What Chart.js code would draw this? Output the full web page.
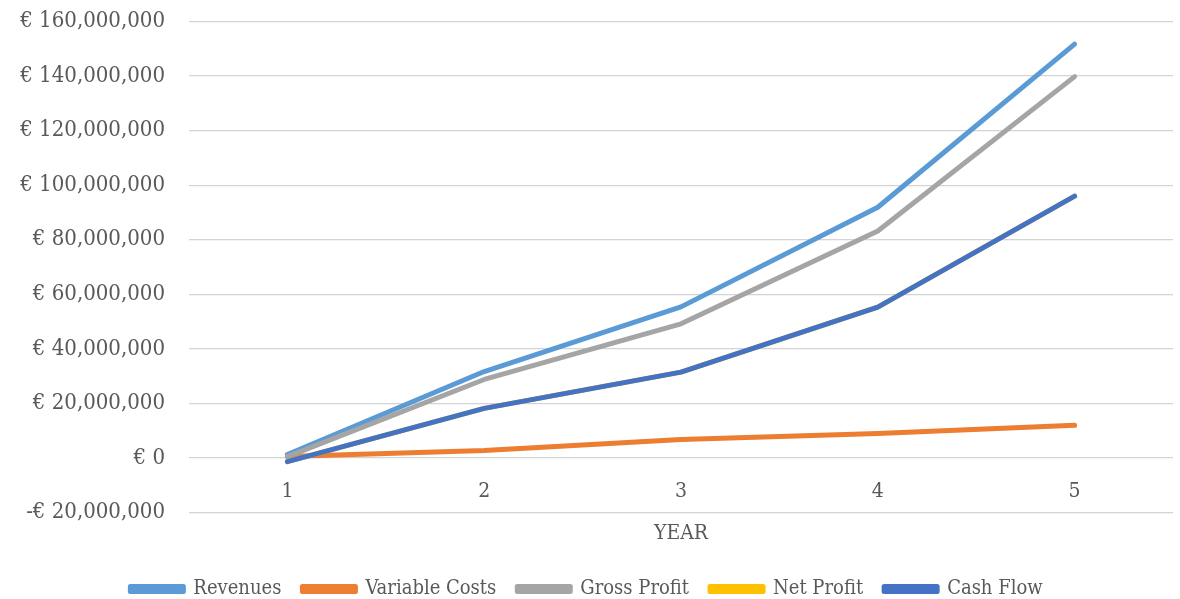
<!DOCTYPE html>
<html>
<head>
<meta charset="utf-8">
<script src="https://cdn.jsdelivr.net/npm/chart.js@4"></script>
<style>
  html, body { margin: 0; padding: 0; background: #ffffff; }
  #wrap { width: 1180px; height: 599px; }
</style>
</head>
<body>
<div id="wrap"><canvas id="chart" width="1180" height="599"></canvas></div>
<script>
// Five-year projection (EUR)
const years = ['1', '2', '3', '4', '5'];
const revenues      = [1300000, 31700000, 55400000, 91900000, 151700000];
const variableCosts = [600000, 2800000, 6800000, 9000000, 12000000];
const grossProfit   = [500000, 28800000, 49200000, 83200000, 139800000];
const netProfit     = [-1300000, 18200000, 31500000, 55300000, 96000000];
const cashFlow      = [-1300000, 18200000, 31500000, 55300000, 96000000];

const yMin = -20000000;
const yMax = 160000000;
const yStep = 20000000;

const FONT = '"DejaVu Serif Condensed", "DejaVu Serif", serif';
const TEXT = '#595959';

function euro(v) {
  if (v === 0) return '€ 0';
  const s = Math.abs(v).toLocaleString('en-US');
  return (v < 0 ? '-€ ' : '€ ') + s;
}

// later series are painted over earlier ones
function series(label, data, color, order) {
  return {
    label, data, order,
    borderColor: color,
    backgroundColor: color,
    borderWidth: 5,
    pointRadius: 0,
    pointHoverRadius: 0,
    tension: 0,
    borderCapStyle: 'round',
    borderJoinStyle: 'round'
  };
}

new Chart(document.getElementById('chart'), {
  type: 'line',
  data: {
    labels: years,
    datasets: [
      series('Revenues', revenues, '#5B9BD5', 5),
      series('Variable Costs', variableCosts, '#ED7D31', 4),
      series('Gross Profit', grossProfit, '#A5A5A5', 3),
      series('Net Profit', netProfit, '#FFC000', 2),
      series('Cash Flow', cashFlow, '#4472C4', 1)
    ]
  },
  options: {
    responsive: false,
    animation: false,
    layout: { padding: { top: 21.5, right: 7, left: 0, bottom: -10 } },
    scales: {
      x: {
        position: { y: 0 },
        offset: true,
        grid: { display: false },
        border: { display: false },
        ticks: { color: TEXT, font: { family: FONT, size: 21 }, padding: 13, maxRotation: 0 },
        title: { display: true, text: 'YEAR', color: TEXT, font: { family: FONT, size: 21 }, padding: { top: 4 } }
      },
      y: {
        min: yMin, max: yMax,
        afterFit(scale) { scale.width = 189; },
        grid: { color: '#D4D4D4', lineWidth: 1.3, drawTicks: true, tickLength: 24, tickColor: 'rgba(0,0,0,0)' },
        border: { display: false },
        ticks: {
          stepSize: yStep,
          color: TEXT,
          padding: 0,
          font: { family: FONT, size: 22 },
          callback: (v) => euro(v)
        }
      }
    },
    plugins: {
      tooltip: { enabled: false },
      legend: {
        position: 'bottom',
        title: { display: true, text: '', padding: { top: 31, bottom: 0 } },
        labels: {
          color: TEXT,
          font: { family: FONT, size: 20 },
          boxWidth: 53,
          boxHeight: 5,
          padding: 21,
          sort: (a, b) => a.datasetIndex - b.datasetIndex
        }
      }
    }
  }
});
</script>
</body>
</html>
